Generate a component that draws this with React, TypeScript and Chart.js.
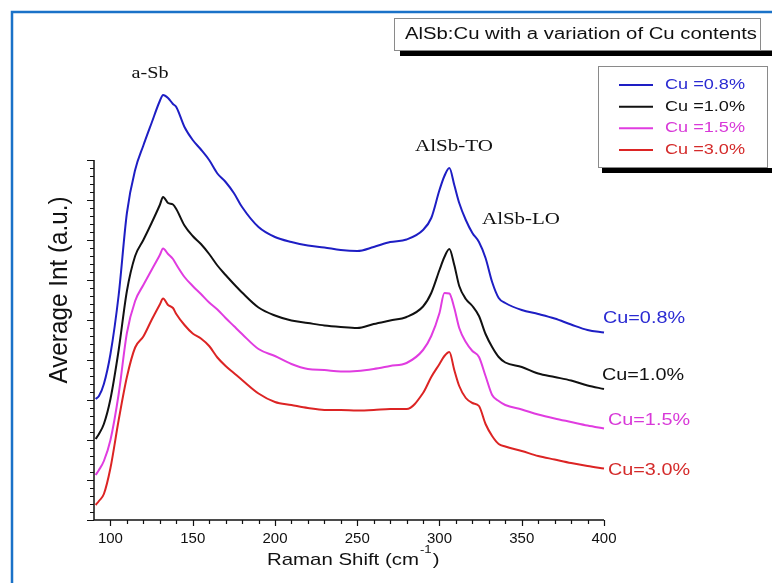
import { useEffect, useRef } from 'react';
import { Chart, registerables } from 'chart.js';

Chart.register(...registerables);

const ramanShift = [91, 93, 96, 100, 105, 110, 115, 120, 125, 130, 132, 135, 138, 140, 145, 150, 155, 160, 165, 170, 175, 180, 190, 200, 210, 220, 230, 240, 250, 260, 270, 280, 290, 295, 300, 303, 306, 309, 312, 316, 320, 324, 328, 332, 336, 340, 350, 360, 370, 380, 390, 400];

const cu08 = [121, 124, 136, 166, 225, 307, 350, 374.5, 397, 419, 425, 422, 416, 413, 393, 380, 370.5, 360, 346.5, 338, 327, 313, 293, 283, 278, 274.5, 272.5, 270, 269, 273, 278, 280.5, 290, 302, 330, 344, 352, 335, 317, 300, 287, 278, 262, 238, 222, 217, 210, 206, 201.5, 195.5, 190, 187.5];
const cu10 = [81, 86, 96, 121, 170, 229, 264, 280, 297, 315, 323, 317, 315.5, 311, 294.5, 284, 276, 266, 254.5, 245, 236, 227.5, 212.5, 204.5, 199.5, 197, 194.5, 193, 192, 196, 199.5, 203, 213.5, 227, 250, 263, 271, 255, 234, 221, 214, 204, 186, 173, 163, 157.5, 153, 146.5, 143, 139.5, 134.5, 131];
const cu15 = [45, 50, 59, 80, 126, 187, 219, 235, 250, 265, 271.5, 266, 261, 255.5, 243, 234, 226, 217.5, 210.5, 202, 194, 186, 171, 164, 156, 151, 150, 148.5, 149, 151, 154, 157, 170, 184, 207, 227, 226.5, 212, 192, 178, 169, 163, 144, 125, 119, 115, 110.5, 105.5, 101.5, 98, 94.5, 91.5];
const cu30 = [15, 19, 26, 52, 100, 143, 172.5, 183.5, 200, 215.5, 221.5, 215, 212, 206, 195, 186.5, 181.5, 174, 162.5, 154, 147, 140, 126.5, 118, 115, 112, 110, 110, 109.5, 110, 111, 111, 127, 143, 156, 164, 168, 150, 134, 122, 117, 114, 96, 84, 76, 73.5, 69, 64, 60.5, 57, 54, 51.5];

const seriesNames = ['Cu =0.8%', 'Cu =1.0%', 'Cu =1.5%', 'Cu =3.0%'];
const endLabels = ['Cu=0.8%', 'Cu=1.0%', 'Cu=1.5%', 'Cu=3.0%'];
const lineColors = ['#1e1ec4', '#111111', '#e03ce0', '#dc2424'];
const textColors = ['#2a2ad2', '#111111', '#d838d8', '#d42a2a'];

const xTickLabels = [100, 150, 200, 250, 300, 350, 400];
const peakLabels = ['a-Sb', 'AlSb-TO', 'AlSb-LO'];
const titleText = 'AlSb:Cu with a variation of Cu contents';

function fitText(ctx: CanvasRenderingContext2D, s: string, x: number, y: number, font: string, color: string, width: number | null, align: 'left' | 'center' = 'left', baseline: CanvasTextBaseline = 'middle') {
  ctx.save();
  ctx.font = font;
  const w = ctx.measureText(s).width;
  const sx = width ? width / w : 1;
  ctx.translate(x, y);
  ctx.scale(sx, 1);
  ctx.fillStyle = color;
  ctx.textAlign = align;
  ctx.textBaseline = baseline;
  ctx.fillText(s, 0, 0);
  ctx.restore();
}

const decor = {
  id: 'decor',
  afterDraw(chart: any) {
    const ctx: CanvasRenderingContext2D = chart.ctx;
    const xs = chart.scales.x;
    const ys = chart.scales.y;
    ctx.save();
    // blue frame
    ctx.strokeStyle = '#1a72c8';
    ctx.lineWidth = 2.5;
    ctx.beginPath();
    ctx.moveTo(12, 583);
    ctx.lineTo(12, 12);
    ctx.lineTo(772, 12);
    ctx.stroke();

    // axes
    const x0 = xs.getPixelForValue(90);
    const x1 = xs.getPixelForValue(400);
    const yb = ys.getPixelForValue(0);
    const yt = ys.getPixelForValue(360);
    ctx.strokeStyle = '#111';
    ctx.lineWidth = 1.5;
    ctx.beginPath();
    ctx.moveTo(x0, yt);
    ctx.lineTo(x0, yb);
    ctx.lineTo(x1, yb);
    ctx.stroke();

    ctx.lineWidth = 1.2;
    ctx.beginPath();
    for (let v = 100; v <= 400; v += 10) {
      const px = Math.round(xs.getPixelForValue(v)) + 0.5;
      const len = v % 50 === 0 ? 6 : 4;
      ctx.moveTo(px, yb);
      ctx.lineTo(px, yb + len);
    }
    for (let v = 0; v <= 360; v += 8) {
      const py = Math.round(ys.getPixelForValue(v)) + 0.5;
      const len = v % 40 === 0 ? 7 : 4;
      ctx.moveTo(x0, py);
      ctx.lineTo(x0 - len, py);
    }
    ctx.stroke();

    // x tick labels
    for (const v of xTickLabels) {
      fitText(ctx, String(v), xs.getPixelForValue(v), 539, '15px "Liberation Sans", Arial, sans-serif', '#111', null, 'center');
    }

    // axis titles
    const xf = '17px "Liberation Sans", Arial, sans-serif';
    ctx.font = xf;
    const mainW = ctx.measureText('Raman Shift (cm').width * 1.2;
    fitText(ctx, 'Raman Shift (cm', 267, 565, xf, '#111', mainW, 'left', 'alphabetic');
    ctx.font = '11px "Liberation Sans", Arial, sans-serif';
    const supW = ctx.measureText('-1').width * 1.2;
    fitText(ctx, '-1', 267 + mainW + 1, 553, '11px "Liberation Sans", Arial, sans-serif', '#111', supW, 'left', 'alphabetic');
    ctx.font = xf;
    fitText(ctx, ')', 267 + mainW + supW + 2, 565, xf, '#111', ctx.measureText(')').width * 1.2, 'left', 'alphabetic');

    ctx.save();
    ctx.translate(67, 290);
    ctx.scale(1.2, 1);
    ctx.rotate(-Math.PI / 2);
    ctx.font = '22px "Liberation Sans", Arial, sans-serif';
    const yw = ctx.measureText('Average Int (a.u.)').width;
    ctx.scale(187 / yw, 1);
    ctx.fillStyle = '#111';
    ctx.textAlign = 'center';
    ctx.textBaseline = 'alphabetic';
    ctx.fillText('Average Int (a.u.)', 0, 0);
    ctx.restore();

    // peak labels
    const serif = '17px "Liberation Serif", "Times New Roman", serif';
    fitText(ctx, peakLabels[0], 150, 74, serif, '#111', 37, 'center');
    fitText(ctx, peakLabels[1], 415, 147, serif, '#111', 78, 'left');
    fitText(ctx, peakLabels[2], 482, 220, serif, '#111', 78, 'left');

    // end labels
    const endX = [603, 602, 608, 608];
    const endY = [318, 375, 420, 470];
    for (let i = 0; i < 4; i++) {
      fitText(ctx, endLabels[i], endX[i], endY[i], '17px "Liberation Sans", Arial, sans-serif', textColors[i], 82, 'left');
    }

    // title box
    ctx.fillStyle = '#000';
    ctx.fillRect(400, 50.5, 372, 5.5);
    ctx.fillStyle = '#fff';
    ctx.fillRect(394.5, 18.5, 366, 32);
    ctx.strokeStyle = '#8a8a8a';
    ctx.lineWidth = 1;
    ctx.strokeRect(394.5, 18.5, 366, 32);
    fitText(ctx, titleText, 405, 35, '16px "Liberation Sans", Arial, sans-serif', '#111', 352, 'left');

    // legend box
    ctx.fillStyle = '#000';
    ctx.fillRect(602, 168, 170, 5);
    ctx.fillStyle = '#fff';
    ctx.fillRect(598.5, 66.5, 169, 101);
    ctx.strokeStyle = '#8a8a8a';
    ctx.strokeRect(598.5, 66.5, 169, 101);
    const ly = [85, 106.7, 128.3, 150];
    for (let i = 0; i < 4; i++) {
      ctx.strokeStyle = lineColors[i];
      ctx.lineWidth = 2;
      ctx.beginPath();
      ctx.moveTo(619, ly[i]);
      ctx.lineTo(653, ly[i]);
      ctx.stroke();
      fitText(ctx, seriesNames[i], 665, ly[i], '15px "Liberation Sans", Arial, sans-serif', textColors[i], 80, 'left');
    }
    ctx.restore();
  },
};

export default function App() {
  const ref = useRef<HTMLCanvasElement | null>(null);
  useEffect(() => {
    if (!ref.current) return;
    const all = [cu08, cu10, cu15, cu30];
    const chart = new Chart(ref.current, {
      type: 'line',
      data: {
        datasets: all.map((arr, i) => ({
          label: seriesNames[i],
          data: ramanShift.map((x, j) => ({ x, y: arr[j] })),
          borderColor: lineColors[i],
          backgroundColor: lineColors[i],
          borderWidth: 2,
          pointRadius: 0,
          cubicInterpolationMode: 'monotone' as const,
          clip: false as any,
        })),
      },
      options: {
        responsive: false,
        animation: false,
        layout: { padding: { left: 94, right: 168, top: 160, bottom: 63 } },
        scales: {
          x: { type: 'linear', min: 90, max: 400, display: false },
          y: { type: 'linear', min: 0, max: 360, display: false },
        },
        plugins: { legend: { display: false }, tooltip: { enabled: false } },
      },
      plugins: [decor],
    });
    return () => chart.destroy();
  }, []);
  return (
    <div style={{ position: 'absolute', left: 0, top: 0, width: 772, height: 583, background: '#fff' }}>
      <canvas ref={ref} width={772} height={583} style={{ display: 'block' }} />
    </div>
  );
}
